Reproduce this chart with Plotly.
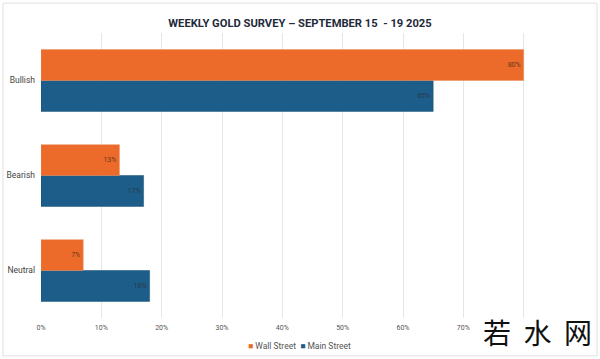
import plotly.graph_objects as go

categories = ["Bullish", "Bearish", "Neutral"]
wall_street = [0.80, 0.13, 0.07]
main_street = [0.65, 0.17, 0.18]
wall_labels = ["80%", "13%", "7%"]
main_labels = ["65%", "17%", "18%"]
tick_vals = [0, 0.1, 0.2, 0.3, 0.4, 0.5, 0.6, 0.7, 0.8, 0.9]
tick_text = ["0%", "10%", "20%", "30%", "40%", "50%", "60%", "70%", "", ""]

WALL_COLOR = "#EC6A2A"
MAIN_COLOR = "#1C5D89"

fig = go.Figure()
fig.add_trace(go.Bar(
    y=categories, x=main_street, name="Main Street", orientation="h",
    marker=dict(color=MAIN_COLOR, line=dict(color="#174E74", width=0.5)),
    text=main_labels, textposition="inside", insidetextanchor="end",
    textfont=dict(size=7, color="#2a3a4a"), showlegend=False,
))
fig.add_trace(go.Bar(
    y=categories, x=wall_street, name="Wall Street", orientation="h",
    marker=dict(color=WALL_COLOR, line=dict(color="#E8915F", width=0.5)),
    text=wall_labels, textposition="inside", insidetextanchor="end",
    textfont=dict(size=7, color="#6a3a1a"), showlegend=False,
))

legend_text = (f"<span style='color:{WALL_COLOR}'>■</span> Wall Street  "
               f"<span style='color:{MAIN_COLOR}'>■</span> Main Street")

fig.update_layout(
    width=600, height=359,
    margin=dict(l=41, r=16, t=33, b=41, autoexpand=False),
    paper_bgcolor="white", plot_bgcolor="white",
    barmode="group", bargap=0.35, bargroupgap=0,
    title=dict(text="<b>WEEKLY GOLD SURVEY – SEPTEMBER 15  - 19 2025</b>",
               x=0.5, xanchor="center", y=0.936, yanchor="middle",
               font=dict(family="Liberation Sans Narrow, Roboto, sans-serif", size=11.2, color="#1f2a3a")),
    font=dict(family="Roboto, sans-serif", size=7, color="#555"),
    showlegend=False,
    xaxis=dict(range=[0, 0.9], tickvals=tick_vals, ticktext=tick_text,
               showgrid=True, gridcolor="#e6e6e6", gridwidth=1, zeroline=False,
               showline=False, tickfont=dict(size=7, color="#555"), ticks="",
               automargin=False, ticklabelstandoff=4),
    yaxis=dict(categoryorder="array", categoryarray=categories[::-1],
               showgrid=False, showline=False, tickfont=dict(size=8.5, color="#444"),
               ticks="", ticklen=0, automargin=False, ticklabelstandoff=5),
    annotations=[
        dict(text=legend_text, xref="paper", yref="paper", x=0.476, y=-0.098,
             xanchor="center", yanchor="middle", showarrow=False,
             font=dict(family="Roboto, sans-serif", size=8.5, color="#555")),
        dict(text="若  水  网", xref="paper", yref="paper", x=1.018, y=-0.05,
             xanchor="right", yanchor="middle", showarrow=False,
             font=dict(family="Noto Sans CJK SC", size=28, color="#111")),
    ],
    shapes=[dict(type="rect", xref="paper", yref="paper", x0=-0.07, x1=1.024,
                 y0=-0.133, y1=1.105, line=dict(color="#e0e0e0", width=1))],
)

fig.write_html("out.html", config={"displayModeBar": False},
               post_script="document.body.style.margin='0';document.body.style.padding='0';")
